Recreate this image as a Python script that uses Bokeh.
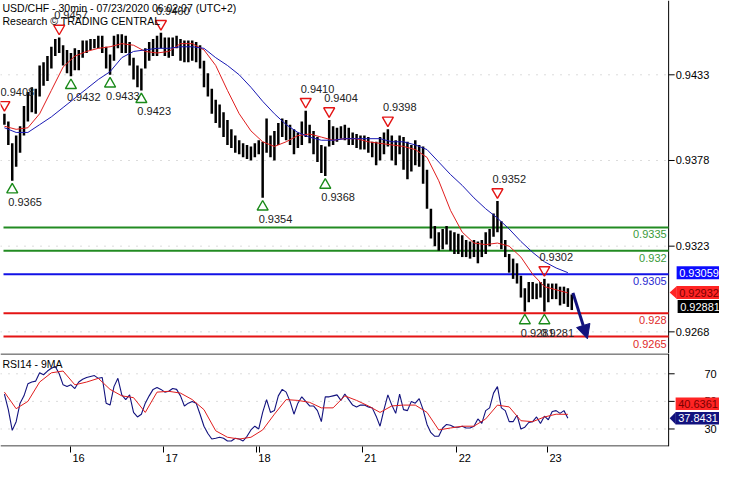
from bokeh.plotting import figure
from bokeh.layouts import column
from bokeh.models import (Range1d, FixedTicker, Arrow, NormalHead, ColumnDataSource,
                          CustomJSTickFormatter)
from bokeh.embed import file_html
from bokeh.resources import INLINE
from bokeh.core.properties import value

FONT = "Liberation Sans"

title_text = "USD/CHF - 30min - 07/23/2020 06:02:07 (UTC+2)"
subtitle_text = "Research \u00a9 TRADING CENTRAL"
rsi_title = "RSI14 - 9MA"

# ---- price bars (one entry per hour bar) ----
high = [0.9408, 0.9403, 0.9389, 0.9394, 0.9400, 0.9413, 0.9422, 0.9425, 0.9424, 0.9439,
        0.9441, 0.9445, 0.9451, 0.9456, 0.9457, 0.9452, 0.9449, 0.9447, 0.9450, 0.9449,
        0.9455, 0.9455, 0.9456, 0.9456, 0.9458, 0.9458, 0.9451, 0.9446, 0.9458, 0.9459,
        0.9459, 0.9458, 0.9454, 0.9444, 0.9439, 0.9437, 0.9450, 0.9454, 0.9456, 0.9458,
        0.9460, 0.9457, 0.9457, 0.9457, 0.9458, 0.9456, 0.9455, 0.9455, 0.9455, 0.9454,
        0.9452, 0.9442, 0.9434, 0.9424, 0.9417, 0.9414, 0.9409, 0.9404, 0.9398, 0.9394,
        0.9391, 0.9389, 0.9388, 0.9387, 0.9389, 0.9391, 0.9390, 0.9405, 0.9394, 0.9397,
        0.9402, 0.9405, 0.9404, 0.9401, 0.9398, 0.9396, 0.9403, 0.9410, 0.9401, 0.9397,
        0.9393, 0.9388, 0.9387, 0.9404, 0.9400, 0.9399, 0.9400, 0.9401, 0.9399, 0.9396,
        0.9395, 0.9394, 0.9394, 0.9393, 0.9390, 0.9390, 0.9393, 0.9396, 0.9398, 0.9394,
        0.9391, 0.9394, 0.9393, 0.9390, 0.9388, 0.9391, 0.9388, 0.9387, 0.9372, 0.9347,
        0.9336, 0.9332, 0.9334, 0.9336, 0.9333, 0.9332, 0.9331, 0.9330, 0.9327, 0.9326,
        0.9327, 0.9326, 0.9327, 0.9332, 0.9334, 0.9344, 0.9352, 0.9339, 0.9327, 0.9318,
        0.9315, 0.9312, 0.9304, 0.9296, 0.9300, 0.9300, 0.9299, 0.9300, 0.9302, 0.9299,
        0.9299, 0.9299, 0.9297, 0.9297, 0.9296, 0.9292]
low = [0.9401, 0.9388, 0.9365, 0.9374, 0.9383, 0.9394, 0.9403, 0.9409, 0.9408, 0.9419,
       0.9426, 0.9429, 0.9437, 0.9445, 0.9447, 0.9439, 0.9434, 0.9432, 0.9436, 0.9436,
       0.9444, 0.9447, 0.9449, 0.9450, 0.9450, 0.9447, 0.9437, 0.9433, 0.9442, 0.9450,
       0.9447, 0.9447, 0.9439, 0.9430, 0.9425, 0.9423, 0.9437, 0.9442, 0.9445, 0.9445,
       0.9450, 0.9445, 0.9444, 0.9445, 0.9450, 0.9442, 0.9441, 0.9441, 0.9442, 0.9441,
       0.9437, 0.9425, 0.9419, 0.9408, 0.9402, 0.9399, 0.9393, 0.9388, 0.9386, 0.9383,
       0.9382, 0.9380, 0.9379, 0.9378, 0.9380, 0.9382, 0.9354, 0.9383, 0.9380, 0.9378,
       0.9388, 0.9393, 0.9391, 0.9388, 0.9382, 0.9386, 0.9388, 0.9393, 0.9389, 0.9382,
       0.9377, 0.9370, 0.9368, 0.9387, 0.9388, 0.9390, 0.9392, 0.9391, 0.9388, 0.9388,
       0.9386, 0.9385, 0.9385, 0.9383, 0.9380, 0.9375, 0.9378, 0.9382, 0.9387, 0.9378,
       0.9375, 0.9382, 0.9372, 0.9366, 0.9371, 0.9375, 0.9374, 0.9363, 0.9347, 0.9328,
       0.9323, 0.9320, 0.9321, 0.9324, 0.9320, 0.9318, 0.9318, 0.9316, 0.9316, 0.9315,
       0.9316, 0.9312, 0.9316, 0.9318, 0.9323, 0.9329, 0.9332, 0.9321, 0.9316, 0.9306,
       0.9302, 0.9299, 0.9290, 0.9281, 0.9287, 0.9289, 0.9289, 0.9290, 0.9281, 0.9287,
       0.9289, 0.9289, 0.9285, 0.9286, 0.9284, 0.9282]
bar_t = list(range(len(high)))

# ---- moving averages (every third bar) ----
ma_t = list(range(0, 145, 3))
ma_red = [0.9400, 0.9398, 0.9399, 0.9408, 0.9423, 0.9438, 0.9445, 0.9448, 0.9450, 0.9451,
          0.9453, 0.9452, 0.9448, 0.9447, 0.9448, 0.9453, 0.9453, 0.9449, 0.9439, 0.9423,
          0.9408, 0.9397, 0.9390, 0.9387, 0.9390, 0.9394, 0.9395, 0.9393, 0.9391, 0.9392,
          0.9392, 0.9390, 0.9389, 0.9388, 0.9387, 0.9385, 0.9380, 0.9365, 0.9346, 0.9332,
          0.9325, 0.9324, 0.9325, 0.9323, 0.9316, 0.9305, 0.9297, 0.9295, 0.9293]
ma_blue = [0.9399, 0.9396, 0.9396, 0.9401, 0.9406, 0.9412, 0.9418, 0.9424, 0.9430, 0.9435,
           0.9444, 0.9448, 0.9449, 0.9450, 0.9450, 0.9451, 0.9451, 0.9450, 0.9444, 0.9439,
           0.9433, 0.9425, 0.9416, 0.9408, 0.9401, 0.9396, 0.9393, 0.9391, 0.9391, 0.9392,
           0.9392, 0.9392, 0.9392, 0.9390, 0.9390, 0.9388, 0.9385, 0.9377, 0.9369, 0.9362,
           0.9354, 0.9347, 0.9341, 0.9334, 0.9326, 0.9319, 0.9313, 0.9309, 0.9306]

# ---- RSI ----
rsi = [55.3, 44.0, 29, 35.3, 48.7, 54, 62.7, 64, 64.7, 70.7,
       69.3, 72, 74, 75.3, 70, 62, 60.7, 62, 59.3, 64,
       66, 67.3, 68, 68.7, 66.7, 67.3, 48.7, 47.3, 60.7, 66.7,
       54.7, 51.3, 54.7, 42, 38.7, 40.7, 48.7, 54, 58.7, 60,
       58.7, 56.7, 57.3, 59.3, 58.7, 54, 46.7, 48.7, 50, 48.7,
       40.7, 32, 26.7, 22.7, 23.3, 24, 23.3, 21.3, 21.3, 23.3,
       22.7, 21.3, 24.7, 29.3, 32, 30, 42, 51.3, 42, 43.3,
       54, 58.7, 56.7, 50, 40.7, 48.7, 53.3, 50, 46.7, 46.7,
       43.3, 35.3, 53.3, 53.3, 54, 54.7, 50.7, 55.3, 51.3, 47.3,
       46, 47.3, 47.3, 46, 45.3, 39.3, 32, 44, 54.7, 47.3,
       41.3, 55.3, 44, 43.3, 50, 48.7, 52, 44, 33.3, 27.3,
       24.7, 24.7, 30.7, 33.3, 32.7, 31.3, 31.3, 32, 30.7, 30.7,
       32, 37.3, 34, 43.3, 45.3, 56, 60.7, 45.3, 43.3, 35.3,
       35.3, 40, 30, 31.3, 34.7, 35.3, 38.7, 34, 39.3, 36.7,
       42.7, 43.3, 41.3, 43.3, 37.8]
rsi_t = list(range(len(rsi)))
rsi_ma = [56.7, 44.7, 50, 64, 70.7, 72, 62, 64, 66.7, 58.7,
          54, 52.7, 42, 56.7, 57.3, 56, 51.3, 44, 28.7, 24,
          22.7, 24, 29.3, 40.7, 51.3, 50.7, 49.3, 45.3, 45.3, 54,
          50.7, 46.7, 42, 46.7, 47.3, 47.3, 42, 29.3, 30.7, 32,
          32, 37.3, 47.3, 46, 36, 35.3, 38.7, 40.7, 40.6]

# ---- swing points ----
swing_high_t = [0, 14, 40, 77, 83, 98, 126, 138]
swing_high_v = [0.9408, 0.9457, 0.9460, 0.9410, 0.9404, 0.9398, 0.9352, 0.9302]
swing_low_t = [2, 17, 27, 35, 66, 82, 133, 138]
swing_low_v = [0.9365, 0.9432, 0.9433, 0.9423, 0.9354, 0.9368, 0.9281, 0.9281]

# ---- support / resistance levels ----
levels = [0.9335, 0.9320, 0.9305, 0.9280, 0.9265]
level_kind = ["res", "res", "pivot", "sup", "sup"]

# ---- forecast arrow ----
arrow_from_t, arrow_from_v = 145.3, 0.9293
arrow_to_t, arrow_to_v = 149.0, 0.92635

# ---- last values ----
last_blue, last_red, last_close = 0.93059, 0.92932, 0.92881
last_rsi, last_rsi_ma = 37.8431, 40.6361

price_ticks = [0.9268, 0.9323, 0.9378, 0.9433]
rsi_ticks = [30, 50, 70]
day_labels = ["16", "17", "18", "21", "22", "23"]
day_start_t = [16.9, 40.7, 64.4, 91.5, 115.6, 138.8]
extra_session_t = [65.1]

# ---------------- layout ----------------
W = 719
H_MAIN = 353
H_RSI = 111
X0, X1 = -1.0, 182.75          # full canvas width in bar units
X_AXIS = 169.75                # where the price axis sits
P0, P1 = 0.92541, 0.94807
R0, R1 = 17.3, 84.7
TPX = (X1 - X0) / W
PPX = (P1 - P0) / H_MAIN
RPX = (R1 - R0) / 97.0

RED = "#e41414"
GREEN = "#228b22"
BLUE = "#1212e6"
NAVY = "#12127e"
MA_RED = "#e01e1e"
MA_BLUE = "#1a1ab4"
BOX_RED = "#ff2424"
BOX_BLUE = "#0c0cff"
GRID = "#b8b8b8"


def txt(fig, xs, ys, texts, colors="black", align="left", baseline="middle", size="11px",
        xoff=0, yoff=0):
    fig.text(x=xs, y=ys, text=texts, text_color=colors, text_align=align,
             text_baseline=baseline, text_font=value(FONT), text_font_size=size,
             x_offset=xoff, y_offset=yoff)


def value_box(fig, y, label, bg, fg, left_px, ypx, pointer=False):
    """Coloured value tag on the right of the axis."""
    x_left = X_AXIS + left_px * TPX
    x_right = X1
    fig.quad(left=[x_left], right=[x_right], bottom=[y - 6.5 * ypx], top=[y + 6.5 * ypx],
             fill_color=bg, line_color=None)
    if pointer:
        fig.patch(x=[X_AXIS + 1 * TPX, x_left + 0.2 * TPX, x_left + 0.2 * TPX],
                  y=[y, y + 6.5 * ypx, y - 6.5 * ypx], fill_color=bg, line_color=None)
    txt(fig, [x_left + 2.5 * TPX], [y], [label], colors=fg)


def manual_y_axis(fig, lo, hi, ticks, labels, label_dx_px, align):
    fig.segment(x0=[X_AXIS], y0=[lo], x1=[X_AXIS], y1=[hi], line_color="black", line_width=1)
    fig.segment(x0=[X_AXIS] * len(ticks), y0=ticks, x1=[X_AXIS + 6 * TPX] * len(ticks), y1=ticks,
                line_color="black", line_width=1)
    fig.segment(x0=[X0] * len(ticks), y0=ticks, x1=[X_AXIS] * len(ticks), y1=ticks,
                line_color=GRID, line_width=1, line_dash="1 7")
    txt(fig, [X_AXIS + label_dx_px * TPX] * len(ticks), ticks, labels, align=align)


# ================= main price panel =================
main = figure(width=W, height=H_MAIN, x_range=Range1d(X0, X1), y_range=Range1d(P0, P1),
              output_backend="svg", toolbar_location=None, x_axis_location=None,
              y_axis_location=None, min_border=0)
main.outline_line_color = None
main.background_fill_color = "white"
main.border_fill_color = "white"
main.grid.visible = False

manual_y_axis(main, P0, P1, price_ticks, ["%.4f" % v for v in price_ticks], 7, "left")

# levels
lvl_line_col = {"res": GREEN, "pivot": BLUE, "sup": RED}
lvl_text_col = {"res": "#3a9a3a", "pivot": "#2a2ad0", "sup": "#e02a2a"}
main.segment(x0=[X0 + 3 * TPX] * len(levels), y0=levels, x1=[X_AXIS] * len(levels), y1=levels,
             line_color=[lvl_line_col[k] for k in level_kind], line_width=2)
txt(main, [X_AXIS - 2 * TPX] * len(levels), levels,
    [("%.4f" % lv).rstrip("0") for lv in levels],
    colors=[lvl_text_col[k] for k in level_kind], align="right", baseline="top", yoff=3)

# bars
src = ColumnDataSource(dict(t=bar_t, high=high, low=low))
main.segment(x0="t", y0="low", x1="t", y1="high", source=src, line_color="black", line_width=2.5)

# moving averages
main.line(ma_t, ma_red, line_color=MA_RED, line_width=1)
main.line(ma_t, ma_blue, line_color=MA_BLUE, line_width=1)

# swing markers
main.scatter(x=swing_high_t, y=[v + 9 * PPX for v in swing_high_v], marker="inverted_triangle",
             size=11, line_color=RED, fill_color=None, line_width=1.4)
txt(main, [max(t - 5 * TPX, X0) for t in swing_high_t], swing_high_v,
    ["%.4f" % v for v in swing_high_v], colors="#222222", yoff=-22)
main.scatter(x=swing_low_t, y=[v - 9 * PPX for v in swing_low_v], marker="triangle",
             size=11, line_color="#1a8a1a", fill_color=None, line_width=1.4)
txt(main, [t - 4 * TPX for t in swing_low_t], swing_low_v,
    ["%.4f" % v for v in swing_low_v], colors="#222222", yoff=21)

# forecast arrow
main.add_layout(Arrow(end=NormalHead(size=14, fill_color=NAVY, line_color=NAVY),
                      x_start=arrow_from_t, y_start=arrow_from_v,
                      x_end=arrow_to_t, y_end=arrow_to_v,
                      line_color=NAVY, line_width=3))

# titles
txt(main, [X0 + 2 * TPX], [P1], [title_text], baseline="top", size="10.5px", yoff=1)
txt(main, [X0 + 2 * TPX], [P1], [subtitle_text], baseline="top", size="10.5px", yoff=14)

# right-side value tags
close_box_y = min(last_close, last_red - 14 * PPX)
value_box(main, last_blue, "%.5f" % last_blue, BOX_BLUE, "white", 8, PPX)
value_box(main, last_red, "%.5f" % last_red, BOX_RED, "#7a0000", 8, PPX, pointer=True)
value_box(main, close_box_y, "%.5f" % last_close, "black", "white", 9, PPX)

# ================= RSI panel =================
rp = figure(width=W, height=H_RSI, x_range=main.x_range, y_range=Range1d(R0, R1),
            output_backend="svg", toolbar_location=None, y_axis_location=None, min_border=0)
rp.outline_line_color = None
rp.background_fill_color = "white"
rp.border_fill_color = "white"
rp.grid.visible = False

label_pos = [d + 8 * TPX for d in day_start_t]
rp.xaxis.ticker = FixedTicker(ticks=label_pos, minor_ticks=day_start_t + extra_session_t)
rp.xaxis.formatter = CustomJSTickFormatter(args=dict(pos=label_pos, names=day_labels), code="""
    for (let i = 0; i < pos.length; i++) {
        if (Math.abs(tick - pos[i]) < 0.01) { return names[i]; }
    }
    return "";
""")
rp.xaxis.major_tick_line_color = None
rp.xaxis.major_tick_out = 0
rp.xaxis.major_tick_in = 0
rp.xaxis.minor_tick_out = 6
rp.xaxis.minor_tick_in = 0
rp.xaxis.minor_tick_line_color = "black"
rp.xaxis.major_label_standoff = 1
rp.xaxis.major_label_text_font = FONT
rp.xaxis.major_label_text_font_size = "11px"
rp.xaxis.major_label_text_color = "black"
rp.xaxis.axis_line_color = None

# panel frame lines (top and bottom), ending at the axis
rp.segment(x0=[X0, X0], y0=[R1 - 0.5 * RPX, R0 + 0.5 * RPX], x1=[X_AXIS, X_AXIS],
           y1=[R1 - 0.5 * RPX, R0 + 0.5 * RPX], line_color="black", line_width=1)
manual_y_axis(rp, R0, R1, rsi_ticks, [str(v) for v in rsi_ticks], 48, "right")

rp.line(rsi_t, rsi, line_color=NAVY, line_width=1.1)
rp.line(ma_t, rsi_ma, line_color=MA_RED, line_width=1)
txt(rp, [X0 + 2 * TPX], [R1], [rsi_title], baseline="top", size="10.5px", yoff=4)

rsi_ma_box_y = max(last_rsi_ma, last_rsi + 15 * RPX)
value_box(rp, rsi_ma_box_y, "%.4f" % last_rsi_ma, BOX_RED, "#7a0000", 7, RPX)
value_box(rp, last_rsi, "%.4f" % last_rsi, NAVY, "white", 7, RPX, pointer=True)

layout = column(main, rp, spacing=0)
open("out.html", "w").write(file_html(layout, INLINE))
